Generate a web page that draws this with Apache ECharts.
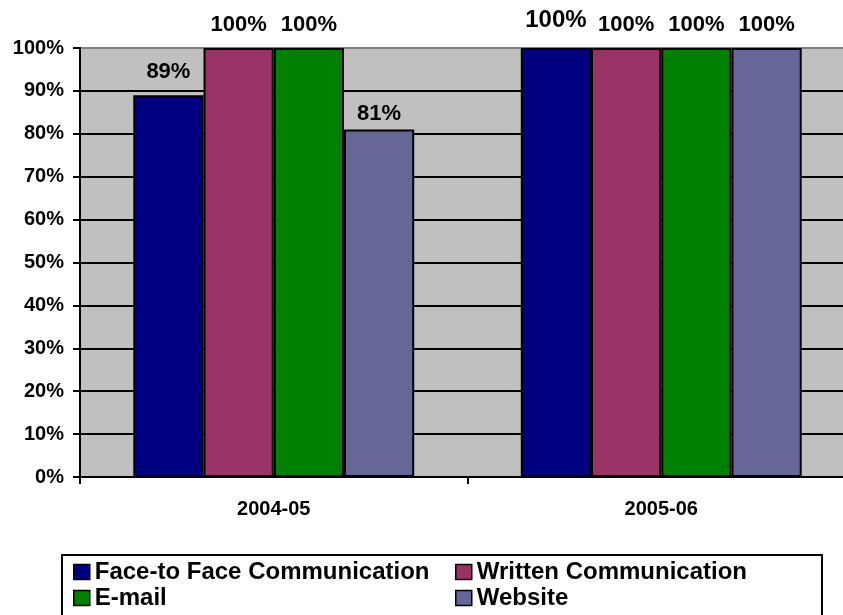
<!DOCTYPE html>
<html>
<head>
<meta charset="utf-8">
<script src="https://cdn.jsdelivr.net/npm/echarts@6/dist/echarts.min.js"></script>
<style>html,body{margin:0;padding:0;background:#fff}#c{width:843px;height:615px}</style>
</head>
<body>
<div id="c"></div>
<script>
var categories = ['2004-05', '2005-06'];
var seriesNames = ['Face-to Face Communication', 'Written Communication', 'E-mail', 'Website'];
var faceToFace = [89, 100];
var written = [100, 100];
var email = [100, 100];
var website = [81, 100];
var yTicks = [0, 10, 20, 30, 40, 50, 60, 70, 80, 90, 100];

var colors = ['#000080', '#993366', '#008000', '#666699'];
var FONT = "'Liberation Sans', Arial, sans-serif";

function items(vals, overrides) {
  return vals.map(function (v, i) {
    if (overrides && overrides[i]) return { value: v, label: overrides[i] };
    return v;
  });
}

var labelBase = {
  show: true, position: 'top', distance: 12, formatter: '{c}%',
  fontFamily: FONT, fontWeight: 'bold', fontSize: 22, color: '#000'
};

function mkSeries(name, data, color) {
  return {
    name: name, type: 'bar', data: data,
    barGap: '0%', barCategoryGap: '27.5%',
    itemStyle: { color: color, borderColor: '#000', borderWidth: 2 },
    label: labelBase
  };
}

var gridColors = yTicks.map(function (t, i) { return i === yTicks.length - 1 ? '#808080' : '#000'; });

var chart = echarts.init(document.getElementById('c'));
chart.setOption({
  animation: false,
  backgroundColor: '#fff',
  grid: { left: 80, top: 48, width: 775, bottom: 138, outerBoundsMode: 'none', containLabel: false,
          show: true, backgroundColor: '#C0C0C0', borderWidth: 0 },
  xAxis: {
    type: 'category', data: categories,
    axisLine: { lineStyle: { color: '#000', width: 2 } },
    axisTick: { show: true, length: 7, lineStyle: { color: '#000', width: 2 } },
    axisLabel: { fontFamily: FONT, fontWeight: 'bold', fontSize: 20, color: '#000', margin: 22 }
  },
  yAxis: {
    type: 'value', min: yTicks[0], max: yTicks[yTicks.length - 1], interval: 10,
    axisLine: { show: true, lineStyle: { color: '#000', width: 2 } },
    axisTick: { show: true, length: 7, lineStyle: { color: '#000', width: 2 } },
    axisLabel: { fontFamily: FONT, fontWeight: 'bold', fontSize: 20, color: '#000', margin: 16, formatter: '{value}%' },
    splitLine: { show: true, lineStyle: { color: gridColors, width: 2 } }
  },
  legend: [
    {
      data: [seriesNames[0], seriesNames[2]], orient: 'vertical', left: 73, top: 560,
      padding: 0, itemGap: 2, itemWidth: 16, itemHeight: 15, icon: 'rect',
      itemStyle: { borderColor: '#000', borderWidth: 1.5 },
      textStyle: { fontFamily: FONT, fontWeight: 'bold', fontSize: 24, color: '#000' }
    },
    {
      data: [seriesNames[1], seriesNames[3]], orient: 'vertical', left: 455, top: 560,
      padding: 0, itemGap: 2, itemWidth: 16, itemHeight: 15, icon: 'rect',
      itemStyle: { borderColor: '#000', borderWidth: 1.5 },
      textStyle: { fontFamily: FONT, fontWeight: 'bold', fontSize: 24, color: '#000' }
    }
  ],
  graphic: [{
    type: 'rect', left: 61, top: 554, z: -1,
    shape: { width: 760, height: 80 },
    style: { fill: '#fff', stroke: '#000', lineWidth: 2 }
  }],
  series: [
    mkSeries(seriesNames[0], items(faceToFace, [null, { fontSize: 24, distance: 16 }]), colors[0]),
    mkSeries(seriesNames[1], items(written), colors[1]),
    mkSeries(seriesNames[2], items(email), colors[2]),
    mkSeries(seriesNames[3], items(website, [{ distance: 5 }, null]), colors[3])
  ]
});
</script>
</body>
</html>
